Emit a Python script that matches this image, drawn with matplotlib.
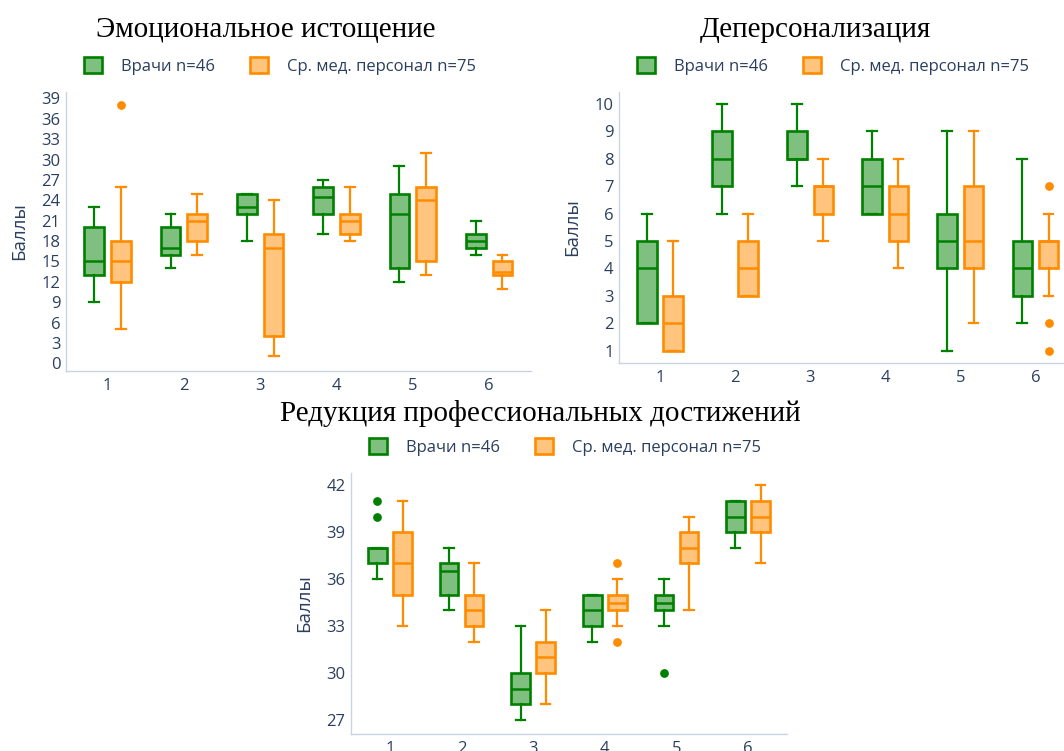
import numpy as np
import matplotlib.pyplot as plt
from matplotlib.colors import to_rgba
from matplotlib.patches import Patch

# burnout subscale scores per item, two staff groups
# each row: (whisker low, q1, median, q3, whisker high)
categories = ["1", "2", "3", "4", "5", "6"]
group_labels = ["Врачи n=46", "Ср. мед. персонал n=75"]

emo_doctors = [(9, 13, 15, 20, 23), (14, 16, 17, 20, 22), (18, 22, 23, 25, 25),
               (19, 22, 24.5, 26, 27), (12, 14, 22, 25, 29), (16, 17, 18, 19, 21)]
emo_doctors_out = [[], [], [], [], [], []]
emo_nurses = [(5, 12, 15, 18, 26), (16, 18, 21, 22, 25), (1, 4, 17, 19, 24),
              (18, 19, 21, 22, 26), (13, 15, 24, 26, 31), (11, 13, 13.5, 15, 16)]
emo_nurses_out = [[38], [], [], [], [], []]

dep_doctors = [(2, 2, 4, 5, 6), (6, 7, 8, 9, 10), (7, 8, 8, 9, 10),
               (6, 6, 7, 8, 9), (1, 4, 5, 6, 9), (2, 3, 4, 5, 8)]
dep_doctors_out = [[], [], [], [], [], []]
dep_nurses = [(1, 1, 2, 3, 5), (3, 3, 4, 5, 6), (5, 6, 7, 7, 8),
              (4, 5, 6, 7, 8), (2, 4, 5, 7, 9), (3, 4, 5, 5, 6)]
dep_nurses_out = [[], [], [], [], [], [7, 2, 1]]

red_doctors = [(36, 37, 38, 38, 38), (34, 35, 36.5, 37, 38), (27, 28, 29, 30, 33),
               (32, 33, 34, 35, 35), (33, 34, 34.5, 35, 36), (38, 39, 40, 41, 41)]
red_doctors_out = [[41, 40], [], [], [], [30], []]
red_nurses = [(33, 35, 37, 39, 41), (32, 33, 34, 35, 37), (28, 30, 31, 32, 34),
              (33, 34, 34.5, 35, 36), (34, 37, 38, 39, 40), (37, 39, 40, 41, 42)]
red_nurses_out = [[], [], [], [37, 32], [], []]

GREEN = "#008000"
ORANGE = "#ff8c00"
TEXT = "#2a3f5f"
AXIS = "#c8d4e3"
SANS = ["Open Sans", "DejaVu Sans"]
SERIF = ["Liberation Serif", "DejaVu Serif"]

W, H = 1064, 751
fig = plt.figure(figsize=(W / 100, H / 100), dpi=100)


def add_axes_px(left, top, right, bottom):
    return fig.add_axes([left / W, 1 - bottom / H, (right - left) / W, (bottom - top) / H])


def draw_panel(ax, box_px, doctors, doctors_out, nurses, nurses_out, ylim, yticks):
    pos = np.arange(1, len(categories) + 1)
    for stats, outs, color, shift in ((doctors, doctors_out, GREEN, -0.175),
                                      (nurses, nurses_out, ORANGE, 0.175)):
        rows = [dict(whislo=s[0], q1=s[1], med=s[2], q3=s[3], whishi=s[4], fliers=o)
                for s, o in zip(stats, outs)]
        ax.bxp(rows, positions=pos + shift, widths=0.26, capwidths=0.13,
               patch_artist=True, showfliers=True, manage_ticks=False,
               boxprops=dict(facecolor=to_rgba(color, 0.5), edgecolor=color, linewidth=1.9),
               medianprops=dict(color=color, linewidth=1.8),
               whiskerprops=dict(color=color, linewidth=1.6),
               capprops=dict(color=color, linewidth=1.6),
               flierprops=dict(marker="o", markerfacecolor=color, markeredgecolor="none",
                               markersize=6.3))

    ax.set_xlim(0.455, 6.545)
    ax.set_ylim(*ylim)
    ax.set_xticks(pos, categories)
    ax.set_yticks(yticks)
    for side in ("top", "right"):
        ax.spines[side].set_visible(False)
    for side in ("left", "bottom"):
        ax.spines[side].set_color(AXIS)
        ax.spines[side].set_linewidth(1.0)
    ax.tick_params(length=0, labelsize=12, labelcolor=TEXT)
    ax.tick_params(axis="x", pad=5)
    ax.tick_params(axis="y", pad=4)
    for lab in ax.get_xticklabels() + ax.get_yticklabels():
        lab.set_family(SANS)

    left, top, right, bottom = box_px
    ax.set_ylabel("Баллы", fontsize=13.5, color=TEXT, family=SANS)
    ax.yaxis.set_label_coords(-38 / (right - left), 0.5)

    handles = [Patch(facecolor=to_rgba(GREEN, 0.5), edgecolor=GREEN, linewidth=1.9,
                     label=group_labels[0]),
               Patch(facecolor=to_rgba(ORANGE, 0.5), edgecolor=ORANGE, linewidth=1.9,
                     label=group_labels[1])]
    ax.legend(handles=handles, loc="center left",
              bbox_to_anchor=(18 / (right - left), (bottom - (top - 25.5)) / (bottom - top)),
              ncol=2, frameon=False, handlelength=1.1, handleheight=1.1,
              handletextpad=1.12, columnspacing=2.1, borderpad=0, borderaxespad=0,
              prop=dict(family=SANS, size=12), labelcolor=TEXT)


panels = [
    ((66, 91.7, 530.7, 370.7), emo_doctors, emo_doctors_out, emo_nurses, emo_nurses_out,
     (-1.1, 40.0), range(0, 40, 3)),
    ((619, 91.7, 1076.4, 363), dep_doctors, dep_doctors_out, dep_nurses, dep_nurses_out,
     (0.55, 10.45), range(1, 11)),
    ((351, 472.7, 787, 734), red_doctors, red_doctors_out, red_nurses, red_nurses_out,
     (26.1, 42.8), range(27, 43, 3)),
]
for box_px, d, d_out, n, n_out, ylim, yticks in panels:
    ax = add_axes_px(*box_px)
    draw_panel(ax, box_px, d, d_out, n, n_out, ylim, yticks)

titles = [("Эмоциональное истощение", 266, 37),
          ("Деперсонализация", 815, 37),
          ("Редукция профессиональных достижений", 540, 421)]
for text, x, y in titles:
    fig.text(x / W, 1 - y / H, text, ha="center", va="baseline",
             fontsize=21, family=SERIF, color="black")

fig.savefig("out.png", dpi=100)
